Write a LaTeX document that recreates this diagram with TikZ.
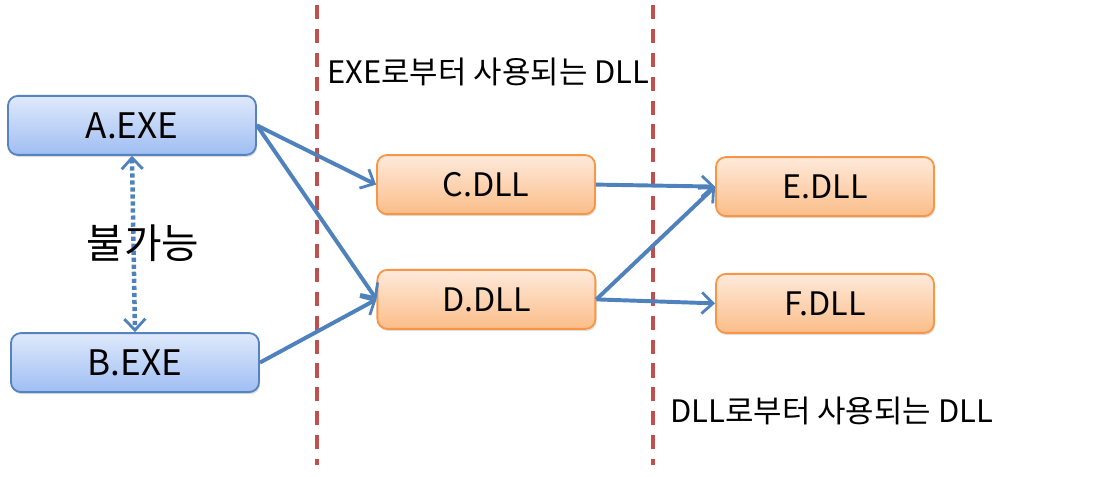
\documentclass[tikz,border=0pt]{standalone}
\usepackage{fontspec}
\setmainfont{Noto Sans CJK KR}
\usetikzlibrary{arrows.meta,shadows}
\definecolor{linkblue}{HTML}{4F81BD}
\definecolor{sepred}{HTML}{C0504D}
\definecolor{exeline}{HTML}{5683BF}
\definecolor{exetop}{HTML}{DFE9FB}
\definecolor{exebot}{HTML}{9FBEF3}
\definecolor{dllline}{HTML}{F79646}
\definecolor{dlltop}{HTML}{FEEADB}
\definecolor{dllbot}{HTML}{FBBD89}

\begin{document}
\begin{tikzpicture}[
    exebox/.style={draw=exeline, line width=1.3pt, rounded corners=7pt, top color=exetop, bottom color=exebot,
      minimum width=6.2cm, minimum height=1.475cm, font=\fontsize{25}{29}\selectfont, drop shadow={opacity=0.25, shadow xshift=0.8pt, shadow yshift=-1.5pt}},
    dllbox/.style={draw=dllline, line width=1.3pt, rounded corners=7pt, top color=dlltop, bottom color=dllbot,
      minimum width=5.45cm, minimum height=1.475cm, font=\fontsize{23}{27}\selectfont, drop shadow={opacity=0.25, shadow xshift=0.8pt, shadow yshift=-1.5pt}},
    tip/.style={-{Straight Barb[length=8pt, width=15pt, line width=2pt]}},
    link/.style={draw=linkblue, line width=2.8pt, tip},
    border/.style={draw=sepred, line width=2.8pt, dash pattern=on 10pt off 7pt},
    note/.style={font=\fontsize{22}{25}\selectfont, anchor=west, inner sep=0pt}
  ]
  \useasboundingbox (0,0) rectangle (27.6,11.925);
  % separators
  \draw[border] (7.925,11.8) -- (7.925,0.3);
  \draw[border] (16.325,11.8) -- (16.325,0.3);
  \node[note] (exeuse) at (8.175,10.125) {EXE로부터 사용되는 DLL};
  \node[note] (dlluse) at (16.75,1.65) {DLL로부터 사용되는 DLL};
  % modules
  \node[exebox] (aexe) at (3.3,8.79) {A.EXE};
  \node[exebox] (bexe) at (3.375,2.86) {B.EXE};
  \node[dllbox] (cdll) at (12.15,7.31) {C.DLL};
  \node[dllbox] (ddll) at (12.16,4.44) {D.DLL};
  \node[dllbox] (edll) at (20.625,7.26) {E.DLL};
  \node[dllbox] (fdll) at (20.625,4.34) {F.DLL};
  % links
  \draw[link] (aexe.east) -- (cdll.west);
  \draw[link] (aexe.east) -- (ddll.west);
  \draw[link] (bexe.east) -- (ddll.west);
  \draw[link] (cdll.east) -- (edll.west);
  \draw[link] (ddll.east) -- (edll.west);
  \draw[link] (ddll.east) -- (fdll.west);
  \draw[link, line width=3.2pt, dash pattern=on 3pt off 2pt, {Straight Barb[length=8pt, width=15pt, line width=2pt]}-{Straight Barb[length=8pt, width=15pt, line width=2pt]}] (aexe.south) -- (bexe.north);
  \node[font=\fontsize{29}{33}\selectfont] (nogo) at (3.575,5.85) {불가능};
\end{tikzpicture}
\end{document}
